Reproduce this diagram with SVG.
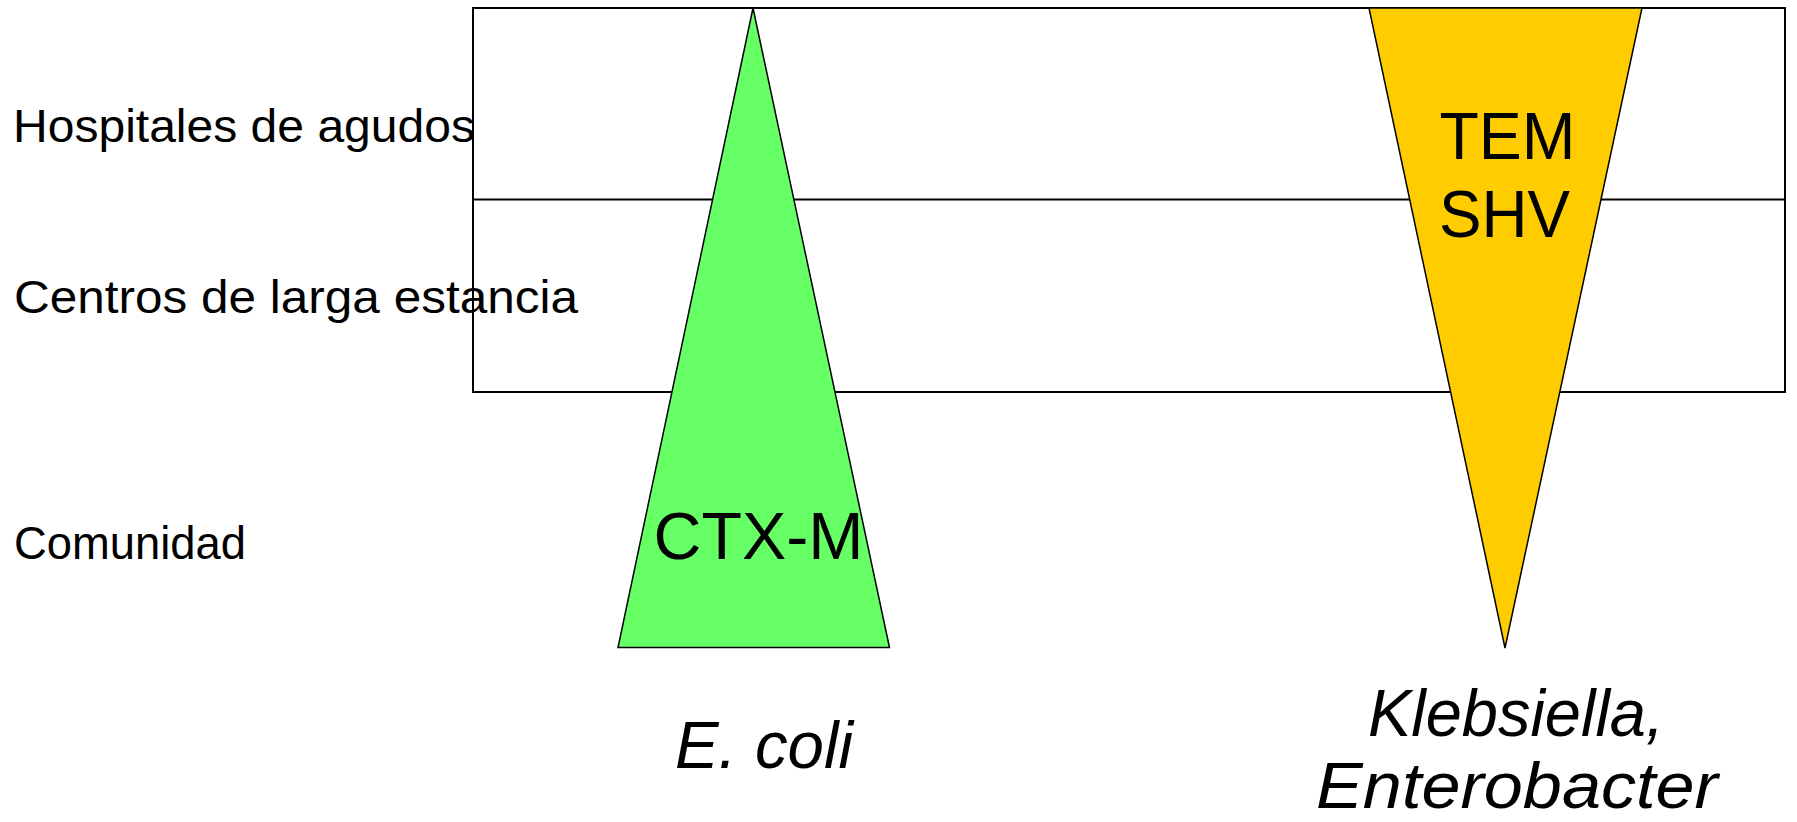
<svg xmlns="http://www.w3.org/2000/svg" width="1797" height="822" viewBox="0 0 1797 822">
<style>
  .lbl { font-family: "Liberation Sans", Arial, sans-serif; font-size: 46px; fill: #000; }
  .big { font-family: "Liberation Sans", Arial, sans-serif; font-size: 66px; fill: #000; text-anchor: middle; }
  .it { font-family: "Liberation Sans", Arial, sans-serif; font-size: 66px; font-style: italic; fill: #000; text-anchor: middle; }
  .grid { fill: none; stroke: #000; stroke-width: 2; }
  .tri { stroke: #000; stroke-width: 1.5; stroke-linejoin: miter; }
</style>
<rect width="1797" height="822" fill="#fff"/>
<g id="grid">
  <rect class="grid" x="473" y="8" width="1312" height="384"/>
  <line class="grid" x1="473" y1="199.5" x2="1785" y2="199.5"/>
</g>
<g id="labels">
  <text class="lbl" x="13" y="142" textLength="462" lengthAdjust="spacingAndGlyphs">Hospitales de agudos</text>
  <text class="lbl" x="14" y="313" textLength="564" lengthAdjust="spacingAndGlyphs">Centros de larga estancia</text>
  <text class="lbl" x="14" y="559" textLength="232" lengthAdjust="spacingAndGlyphs">Comunidad</text>
</g>
<g id="ctxm">
  <polygon class="tri" fill="#66FF66" points="753,8 889.5,647.5 618,647.5"/>
  <text class="big" x="758.5" y="559" textLength="210" lengthAdjust="spacingAndGlyphs">CTX-M</text>
</g>
<g id="temshv">
  <polygon class="tri" fill="#FFCC00" points="1369,8 1642,8 1505,648"/>
  <text class="big" x="1507.5" y="159" textLength="136" lengthAdjust="spacingAndGlyphs">TEM</text>
  <text class="big" x="1504.5" y="237" textLength="131" lengthAdjust="spacingAndGlyphs">SHV</text>
</g>
<g id="ecoli">
  <text class="it" x="764" y="768" textLength="178" lengthAdjust="spacingAndGlyphs">E. coli</text>
</g>
<g id="kleb">
  <text class="it" x="1516" y="736" textLength="296" lengthAdjust="spacingAndGlyphs">Klebsiella,</text>
  <text class="it" x="1517" y="808" style="font-size:64px" textLength="402" lengthAdjust="spacingAndGlyphs">Enterobacter</text>
</g>
<g id="connectors"></g>
</svg>
